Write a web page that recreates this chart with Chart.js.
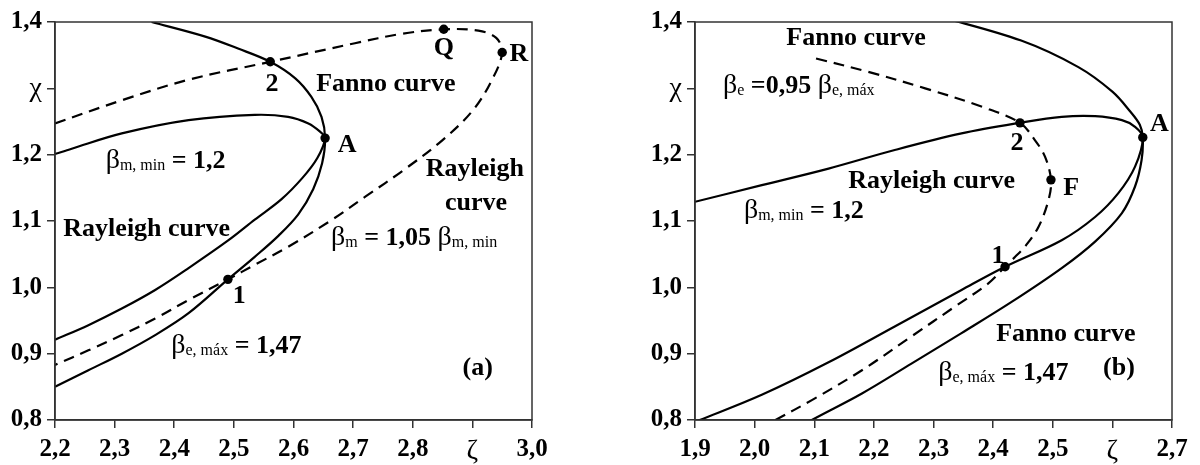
<!DOCTYPE html>
<html>
<head>
<meta charset="utf-8">
<script src="https://cdn.jsdelivr.net/npm/chart.js@4.4.1/dist/chart.umd.min.js"></script>
<style>
  body { margin: 0; background: #fff; }
  #wrap { position: relative; width: 1200px; height: 465px; }
  canvas { position: absolute; top: 0; }
  #chartA { left: 0; }
  #chartB { left: 600px; }
</style>
</head>
<body>
<div id="wrap">
  <canvas id="chartA" width="600" height="465"></canvas>
  <canvas id="chartB" width="600" height="465"></canvas>
</div>
<script>
// ---- axes ----
const yTicks = [0.8, 0.9, 1.0, 1.1, 1.2, 1.3, 1.4];
const yLabels = ['0,8', '0,9', '1,0', '1,1', '1,2', 'χ', '1,4'];
const xTicksA = [2.2, 2.3, 2.4, 2.5, 2.6, 2.7, 2.8, 2.9, 3.0];
const xLabelsA = ['2,2', '2,3', '2,4', '2,5', '2,6', '2,7', '2,8', 'ζ', '3,0'];
const xTicksB = [1.9, 2.0, 2.1, 2.2, 2.3, 2.4, 2.5, 2.6, 2.7];
const xLabelsB = ['1,9', '2,0', '2,1', '2,2', '2,3', '2,4', '2,5', 'ζ', '2,7'];

// ---- panel (a) ----
// Fanno curve, beta e,max = 1.47 (solid)
const fannoA_zeta = [2.362, 2.452, 2.507, 2.561, 2.603, 2.630, 2.647, 2.653, 2.648, 2.633, 2.608, 2.575, 2.535, 2.490, 2.424, 2.368, 2.312, 2.256, 2.200];
const fannoA_chi  = [1.400, 1.378, 1.360, 1.340, 1.315, 1.287, 1.257, 1.225, 1.187, 1.148, 1.110, 1.078, 1.046, 1.012, 0.961, 0.928, 0.900, 0.875, 0.850];
// Rayleigh curve, beta m,min = 1.2 (solid)
const rayA_zeta = [2.200, 2.228, 2.312, 2.424, 2.535, 2.591, 2.625, 2.644, 2.653, 2.640, 2.615, 2.580, 2.535, 2.491, 2.424, 2.368, 2.312, 2.256, 2.200];
const rayA_chi  = [1.201, 1.209, 1.232, 1.252, 1.260, 1.257, 1.247, 1.235, 1.225, 1.195, 1.165, 1.133, 1.102, 1.071, 1.029, 0.996, 0.968, 0.943, 0.921];
// Rayleigh curve, beta m = 1.05 beta m,min (dashed)
const rayA2_zeta = [2.200, 2.312, 2.424, 2.561, 2.703, 2.780, 2.852, 2.910, 2.940, 2.950, 2.933, 2.901, 2.850, 2.785, 2.721, 2.663, 2.591, 2.535, 2.490, 2.424, 2.368, 2.312, 2.256, 2.200];
const rayA2_chi  = [1.247, 1.282, 1.313, 1.340, 1.368, 1.382, 1.389, 1.387, 1.376, 1.354, 1.313, 1.267, 1.222, 1.177, 1.137, 1.101, 1.061, 1.034, 1.012, 0.981, 0.953, 0.928, 0.905, 0.883];
// marked points 2, Q, R, A, 1
const ptsA_zeta = [2.561, 2.852, 2.950, 2.653, 2.490];
const ptsA_chi  = [1.340, 1.389, 1.354, 1.225, 1.012];

// ---- panel (b) ----
// Fanno curve, beta e,max = 1.47 (solid)
const fannoB_zeta = [2.303, 2.447, 2.543, 2.600, 2.630, 2.646, 2.651, 2.649, 2.638, 2.616, 2.571, 2.515, 2.431, 2.347, 2.263, 2.180, 2.096, 2.078];
const fannoB_chi  = [1.410, 1.372, 1.332, 1.295, 1.265, 1.245, 1.226, 1.192, 1.152, 1.112, 1.069, 1.029, 0.978, 0.931, 0.885, 0.840, 0.800, 0.790];
// Rayleigh curve, beta m,min = 1.2 (solid)
const rayB_zeta = [1.900, 2.012, 2.124, 2.235, 2.347, 2.445, 2.515, 2.571, 2.616, 2.638, 2.651, 2.638, 2.610, 2.571, 2.515, 2.420, 2.347, 2.235, 2.124, 2.012, 1.908, 1.890];
const rayB_chi  = [1.129, 1.154, 1.179, 1.207, 1.232, 1.248, 1.257, 1.258, 1.252, 1.242, 1.226, 1.182, 1.142, 1.106, 1.071, 1.031, 0.996, 0.941, 0.887, 0.838, 0.800, 0.794];
// Fanno curve, beta e = 0.95 beta e,max (dashed)
const fannoB2_zeta = [2.103, 2.190, 2.286, 2.382, 2.445, 2.470, 2.487, 2.497, 2.493, 2.476, 2.453, 2.437, 2.420, 2.392, 2.336, 2.263, 2.180, 2.096, 2.035];
const fannoB2_chi  = [1.345, 1.325, 1.300, 1.272, 1.248, 1.222, 1.197, 1.162, 1.132, 1.091, 1.061, 1.046, 1.031, 1.006, 0.971, 0.926, 0.875, 0.830, 0.800];
// marked points 2, F, 1, A
const ptsB_zeta = [2.445, 2.497, 2.420, 2.651];
const ptsB_chi  = [1.248, 1.162, 1.031, 1.226];

const serif = "'Liberation Serif', 'Times New Roman', serif";

function zip(xs, ys) {
  return xs.map((x, i) => ({ x: x, y: ys[i] }));
}

function curve(xs, ys, dashed) {
  return {
    data: zip(xs, ys),
    showLine: true,
    borderColor: '#000',
    borderWidth: 2.2,
    borderDash: dashed ? [11, 7] : [],
    pointRadius: 0,
    tension: 0.35,
    fill: false
  };
}

function marks(xs, ys) {
  return {
    data: zip(xs, ys),
    showLine: false,
    pointRadius: 4.7,
    pointBackgroundColor: '#000',
    pointBorderWidth: 0
  };
}

// text labels: [zeta, chi, align, parts]; a part is [text, kind]
const B = 'big', S = 'sub', G = 'greek';
const labelsA = [
  [2.564, 1.308, 'center', [['2', B]]],
  [2.852, 1.362, 'center', [['Q', B]]],
  [2.978, 1.353, 'center', [['R', B]]],
  [2.690, 1.216, 'center', [['A', B]]],
  [2.509, 0.988, 'center', [['1', B]]],
  [2.755, 1.308, 'center', [['Fanno curve', B]]],
  [2.285, 1.192, 'left', [['β', G], ['m, min', S], [' = 1,2', B]]],
  [2.214, 1.089, 'left', [['Rayleigh curve', B]]],
  [2.904, 1.180, 'center', [['Rayleigh', B]]],
  [2.906, 1.129, 'center', [['curve', B]]],
  [2.663, 1.076, 'left', [['β', G], ['m', S], [' = 1,05 ', B], ['β', G], ['m, min', S]]],
  [2.395, 0.913, 'left', [['β', G], ['e, máx', S], [' = 1,47', B]]],
  [2.909, 0.880, 'center', [['(a)', B]]]
];
const labelsB = [
  [2.170, 1.377, 'center', [['Fanno curve', B]]],
  [1.947, 1.305, 'left', [['β', G], ['e', S], [' =0,95 ', B], ['β', G], ['e, máx', S]]],
  [2.157, 1.162, 'left', [['Rayleigh curve', B]]],
  [1.982, 1.117, 'left', [['β', G], ['m, min', S], [' = 1,2', B]]],
  [2.408, 1.049, 'center', [['1', B]]],
  [2.440, 1.219, 'center', [['2', B]]],
  [2.531, 1.151, 'center', [['F', B]]],
  [2.679, 1.248, 'center', [['A', B]]],
  [2.522, 0.931, 'center', [['Fanno curve', B]]],
  [2.308, 0.872, 'left', [['β', G], ['e, máx', S], [' = 1,47', B]]],
  [2.611, 0.880, 'center', [['(b)', B]]]
];

function partFont(kind) {
  if (kind === S) return '16px ' + serif;
  if (kind === G) return '28px ' + serif;
  return 'bold 26px ' + serif;
}

const textPlugin = {
  id: 'texts',
  afterDraw(chart, args, opts) {
    const ctx = chart.ctx;
    const xs = chart.scales.x, ys = chart.scales.y;
    ctx.save();
    ctx.fillStyle = '#000';
    ctx.textBaseline = 'alphabetic';
    ctx.textAlign = 'left';
    (opts.items || []).forEach(function (it) {
      const parts = it[3];
      let w = 0;
      parts.forEach(function (p) { ctx.font = partFont(p[1]); w += ctx.measureText(p[0]).width; });
      let px = xs.getPixelForValue(it[0]);
      const base = ys.getPixelForValue(it[1]) + 8;
      if (it[2] === 'center') px -= w / 2;
      parts.forEach(function (p) {
        ctx.font = partFont(p[1]);
        ctx.fillText(p[0], px, p[1] === S ? base + 2 : base);
        px += ctx.measureText(p[0]).width;
      });
    });
    ctx.restore();
  }
};

const framePlugin = {
  id: 'frame',
  afterDraw(chart) {
    const a = chart.chartArea, ctx = chart.ctx;
    ctx.save();
    ctx.strokeStyle = '#333';
    ctx.lineWidth = 1.5;
    ctx.strokeRect(a.left, a.top, a.right - a.left, a.bottom - a.top);
    ctx.restore();
  }
};

function makeChart(id, datasets, xTicks, xLabels, yWidth, rightPad, texts) {
  const tickFont = function (labels) {
    return function (c) {
      const l = labels[c.index];
      const greek = l === 'χ' || l === 'ζ';
      return { family: serif, size: greek ? 28 : 25, weight: greek ? 'normal' : 'bold' };
    };
  };
  return new Chart(document.getElementById(id).getContext('2d'), {
    type: 'scatter',
    data: { datasets: datasets },
    options: {
      responsive: false,
      animation: false,
      events: [],
      layout: { padding: { left: 0, right: rightPad, top: 22, bottom: 0 } },
      plugins: { legend: { display: false }, tooltip: { enabled: false }, texts: { items: texts } },
      scales: {
        x: {
          type: 'linear',
          min: xTicks[0],
          max: xTicks[xTicks.length - 1],
          afterBuildTicks: function (s) { s.ticks = xTicks.map(function (v) { return { value: v }; }); },
          afterFit: function (s) { s.height = 45; },
          ticks: {
            callback: function (v, i) { return xLabels[i]; },
            font: tickFont(xLabels),
            color: '#000',
            padding: 7,
            maxRotation: 0,
            autoSkip: false
          },
          grid: { drawOnChartArea: false, drawTicks: true, tickLength: 8, color: '#333', lineWidth: 1.5 },
          border: { color: '#333', width: 1.5 }
        },
        y: {
          type: 'linear',
          min: 0.8,
          max: 1.4,
          afterBuildTicks: function (s) { s.ticks = yTicks.map(function (v) { return { value: v }; }); },
          afterFit: function (s) { s.width = yWidth; },
          ticks: {
            callback: function (v, i) { return yLabels[i]; },
            font: tickFont(yLabels),
            color: '#000',
            padding: 5,
            autoSkip: false
          },
          grid: { drawOnChartArea: false, drawTicks: true, tickLength: 8, color: '#333', lineWidth: 1.5 },
          border: { color: '#333', width: 1.5 }
        }
      }
    },
    plugins: [framePlugin, textPlugin]
  });
}

makeChart('chartA', [
  curve(fannoA_zeta, fannoA_chi, false),
  curve(rayA_zeta, rayA_chi, false),
  curve(rayA2_zeta, rayA2_chi, true),
  marks(ptsA_zeta, ptsA_chi)
], xTicksA, xLabelsA, 55, 68, labelsA);

makeChart('chartB', [
  curve(fannoB_zeta, fannoB_chi, false),
  curve(rayB_zeta, rayB_chi, false),
  curve(fannoB2_zeta, fannoB2_chi, true),
  marks(ptsB_zeta, ptsB_chi)
], xTicksB, xLabelsB, 95, 28, labelsB);
</script>
</body>
</html>
